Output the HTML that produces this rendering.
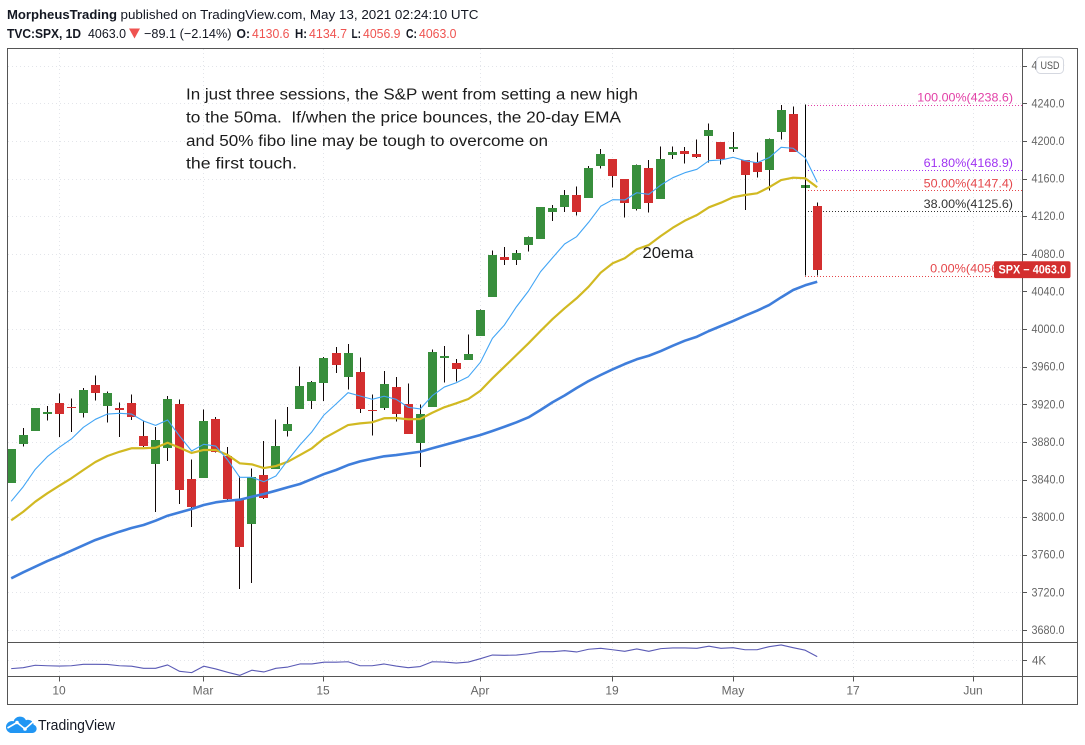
<!DOCTYPE html>
<html lang="en">
<head>
<meta charset="utf-8">
<title>TVC:SPX, 1D - MorpheusTrading</title>
<style>
  html, body { margin: 0; padding: 0; background: #ffffff; }
  body { width: 1085px; height: 745px; overflow: hidden; }
  svg { display: block; font-family: "Liberation Sans", sans-serif; }
  .crisp { shape-rendering: crispEdges; }
</style>
</head>
<body>
<svg id="chart" width="1085" height="745" viewBox="0 0 1085 745" xmlns="http://www.w3.org/2000/svg">
  <defs>
    <clipPath id="pane-clip"><rect x="8" y="49" width="1014" height="593"></rect></clipPath>
    <clipPath id="vol-clip"><rect x="8" y="643" width="1014" height="33"></rect></clipPath>
  </defs>

  <rect x="0" y="0" width="1085" height="745" fill="#ffffff"></rect>

  <g id="grid" class="crisp"></g>
  <g id="fib-lines" class="crisp" clip-path="url(#pane-clip)"></g>
  <g id="candles" class="crisp" clip-path="url(#pane-clip)"></g>
  <g id="lines" clip-path="url(#pane-clip)"></g>
  <g id="vol" clip-path="url(#vol-clip)"></g>

  <g class="crisp" fill="none" stroke="#555555" stroke-width="1">
    <rect x="7.5" y="48.5" width="1070" height="656"></rect>
    <line x1="1022.5" y1="48" x2="1022.5" y2="705"></line>
    <line x1="7" y1="642.5" x2="1078" y2="642.5"></line>
    <line x1="7" y1="676.5" x2="1078" y2="676.5"></line>
  </g>

  <g id="price-axis"></g>
  <g id="time-axis"></g>
  <g id="fib-labels"></g>

  <g>
    <rect x="1036.5" y="57" width="27" height="16.5" rx="4" fill="#ffffff" stroke="#d5d8e0"></rect>
    <text x="1050" y="69" font-size="11" fill="#555" text-anchor="middle" textLength="19" lengthAdjust="spacingAndGlyphs">USD</text>
  </g>

  <g id="last-price"></g>

  <g font-size="15.5" fill="#1c1c1c">
    <text x="186" y="99.5" textLength="452" lengthAdjust="spacingAndGlyphs">In just three sessions, the S&amp;P went from setting a new high</text>
    <text x="186" y="122.5" textLength="435" lengthAdjust="spacingAndGlyphs">to the 50ma.&#160; If/when the price bounces, the 20-day EMA</text>
    <text x="186" y="146" textLength="362" lengthAdjust="spacingAndGlyphs">and 50% fibo line may be tough to overcome on</text>
    <text x="186" y="168.5" textLength="111" lengthAdjust="spacingAndGlyphs">the first touch.</text>
  </g>
  <text x="642.5" y="258" font-size="16" fill="#1c1c1c" textLength="51" lengthAdjust="spacingAndGlyphs">20ema</text>

  <g font-size="13" fill="#131722">
    <text x="7" y="19" font-weight="bold" textLength="110" lengthAdjust="spacingAndGlyphs">MorpheusTrading</text>
    <text x="120.5" y="19" textLength="358" lengthAdjust="spacingAndGlyphs">published on TradingView.com, May 13, 2021 02:24:10 UTC</text>
    <text x="7" y="38" font-weight="bold" textLength="74" lengthAdjust="spacingAndGlyphs">TVC:SPX, 1D</text>
    <text x="88" y="38" textLength="38" lengthAdjust="spacingAndGlyphs">4063.0</text>
    <polygon points="129,28.5 140,28.5 134.5,38.5" fill="#ef5350"></polygon>
    <text x="144" y="38" textLength="87.5" lengthAdjust="spacingAndGlyphs">&#8722;89.1 (&#8722;2.14%)</text>
    <text x="236.5" y="38" font-weight="bold" textLength="13.5" lengthAdjust="spacingAndGlyphs">O:</text>
    <text x="252" y="38" fill="#ef5350" textLength="37.5" lengthAdjust="spacingAndGlyphs">4130.6</text>
    <text x="295" y="38" font-weight="bold" textLength="12" lengthAdjust="spacingAndGlyphs">H:</text>
    <text x="309" y="38" fill="#ef5350" textLength="38" lengthAdjust="spacingAndGlyphs">4134.7</text>
    <text x="351.5" y="38" font-weight="bold" textLength="9.5" lengthAdjust="spacingAndGlyphs">L:</text>
    <text x="363" y="38" fill="#ef5350" textLength="37.5" lengthAdjust="spacingAndGlyphs">4056.9</text>
    <text x="406" y="38" font-weight="bold" textLength="11" lengthAdjust="spacingAndGlyphs">C:</text>
    <text x="419" y="38" fill="#ef5350" textLength="37.5" lengthAdjust="spacingAndGlyphs">4063.0</text>
  </g>

  <g>
    <path d="M10.5 733 h21.5 a4.3 4.3 0 0 0 1.6 -8.4 a5.6 5.6 0 0 0 -7.6 -4.4 a6.8 6.8 0 0 0 -12.4 1 a6 6 0 0 0 -3.100 11.800 z" fill="#2196f3"></path>
    <polyline points="7.500,728 17,722.500 25,729 33.500,721.500" fill="none" stroke="#ffffff" stroke-width="1.600"></polyline>
    <circle cx="17" cy="722.500" r="1.800" fill="#ffffff"></circle>
    <circle cx="25" cy="729" r="1.800" fill="#ffffff"></circle>
    <text x="38" y="730" font-size="15" fill="#131722" textLength="77" lengthAdjust="spacingAndGlyphs">TradingView</text>
  </g>
</svg>

<script>
const categories = ["Feb 4","Feb 5","Feb 8","Feb 9","Feb 10","Feb 11","Feb 12","Feb 16","Feb 17","Feb 18","Feb 19","Feb 22","Feb 23","Feb 24","Feb 25","Feb 26","Mar 1","Mar 2","Mar 3","Mar 4","Mar 5","Mar 8","Mar 9","Mar 10","Mar 11","Mar 12","Mar 15","Mar 16","Mar 17","Mar 18","Mar 19","Mar 22","Mar 23","Mar 24","Mar 25","Mar 26","Mar 29","Mar 30","Mar 31","Apr 1","Apr 5","Apr 6","Apr 7","Apr 8","Apr 9","Apr 12","Apr 13","Apr 14","Apr 15","Apr 16","Apr 19","Apr 20","Apr 21","Apr 22","Apr 23","Apr 26","Apr 27","Apr 28","Apr 29","Apr 30","May 3","May 4","May 5","May 6","May 7","May 10","May 11","May 12"];
const opens = [3836.66,3878.30,3892.59,3910.49,3920.78,3916.40,3911.65,3939.61,3918.50,3915.86,3921.16,3885.55,3857.07,3873.71,3919.94,3839.66,3842.51,3903.64,3863.99,3818.53,3793.58,3844.39,3851.93,3891.99,3915.54,3924.52,3942.96,3973.59,3949.57,3953.50,3913.14,3916.48,3937.60,3919.93,3879.34,3917.12,3969.31,3963.34,3967.25,3992.78,4034.44,4075.57,4074.29,4089.95,4096.11,4124.71,4130.10,4141.58,4139.76,4174.14,4179.80,4159.18,4128.42,4170.46,4138.78,4185.03,4188.25,4185.14,4206.14,4198.10,4191.98,4179.04,4177.06,4169.14,4210.34,4228.29,4150.34,4130.55];
const highs = [3872.42,3894.56,3915.77,3918.35,3931.50,3925.99,3937.23,3950.43,3933.61,3921.98,3930.41,3902.92,3895.98,3928.65,3925.02,3861.08,3914.50,3906.41,3874.47,3843.67,3851.69,3881.06,3903.76,3917.35,3960.27,3944.99,3970.08,3981.04,3983.87,3969.62,3930.12,3955.31,3949.13,3942.08,3919.54,3978.19,3981.83,3968.01,3994.41,4020.63,4083.42,4087.00,4084.00,4098.19,4129.48,4131.76,4148.00,4151.69,4173.49,4191.31,4180.81,4159.18,4175.02,4179.57,4194.17,4194.19,4193.35,4201.53,4218.78,4198.10,4209.39,4179.04,4187.72,4202.70,4238.04,4236.39,4162.04,4134.73];
const lows = [3836.66,3874.93,3892.59,3902.64,3884.94,3890.39,3905.78,3923.85,3900.43,3885.03,3903.07,3874.71,3805.59,3859.60,3814.04,3789.54,3842.51,3868.57,3818.86,3723.34,3730.19,3819.25,3851.93,3885.73,3915.54,3915.21,3923.54,3953.44,3935.74,3910.86,3886.75,3914.16,3901.57,3889.07,3853.50,3917.12,3943.25,3944.35,3966.98,3992.78,4034.44,4068.31,4068.31,4082.54,4095.51,4114.82,4124.43,4120.87,4139.76,4170.75,4150.47,4118.38,4126.01,4123.69,4138.78,4180.80,4176.22,4181.78,4176.81,4174.85,4188.03,4126.81,4160.94,4147.33,4201.64,4188.13,4111.53,4056.88];
const closes = [3871.74,3886.83,3915.59,3911.23,3909.88,3916.38,3934.83,3932.59,3931.33,3913.97,3906.71,3876.50,3881.37,3925.43,3829.34,3811.15,3901.82,3870.29,3819.72,3768.47,3841.94,3821.35,3875.44,3898.81,3939.34,3943.34,3968.94,3962.71,3974.12,3915.46,3913.10,3940.59,3910.52,3889.14,3909.52,3974.54,3971.09,3958.55,3972.89,4019.87,4077.91,4073.94,4079.95,4097.17,4128.80,4127.99,4141.59,4124.66,4170.42,4185.47,4163.26,4134.94,4173.42,4134.98,4180.17,4187.62,4186.72,4183.18,4211.47,4181.17,4192.66,4164.66,4167.59,4201.62,4232.60,4188.43,4152.10,4063.04];
const fastEma = [3816.8,3832.3,3850.8,3864.2,3874.2,3883.1,3895.5,3904,3909.6,3910.4,3909.6,3902.2,3897.6,3903.3,3886.2,3870.3,3877.4,3875.6,3860.7,3842.3,3842.3,3837.6,3843.7,3860.7,3876.7,3890.8,3908.6,3920.3,3932.3,3928.8,3925.3,3928.5,3925.3,3916.8,3915,3929.1,3938.3,3942.9,3949.3,3964.6,3990.1,4004.3,4023.7,4040.4,4060.9,4075.8,4090.4,4098.2,4113.5,4130.5,4137.5,4137.2,4144.9,4143.2,4153.1,4160.9,4166.2,4169.8,4179,4179.7,4182.6,4179,4176.8,4182.2,4193.2,4192.2,4182.2,4156];
const ema20 = [3796.6,3805.7,3816.4,3825.3,3833.4,3841.3,3850.1,3858.6,3865,3869.5,3873.2,3873.2,3873.8,3879.1,3873.8,3868.2,3871.4,3871.4,3866,3857.2,3856.1,3852.2,3854.3,3858.9,3866,3873.2,3883.8,3890.8,3897.9,3899.7,3900.8,3905.1,3905.4,3904,3904.3,3911,3916.8,3921,3925.6,3934.4,3947.6,3959.9,3972.4,3984.8,3997.9,4010.6,4022,4032.7,4045,4059.9,4069.9,4075.2,4084.8,4089.3,4098.9,4107.7,4115.2,4121.2,4129.4,4134.3,4140.1,4142.5,4144.3,4150.7,4158.4,4160.9,4160.3,4150.7];
const ma50 = [3734.9,3741.3,3747.3,3753.3,3758.6,3764.3,3770,3775.7,3780.2,3784.5,3788.4,3791.6,3796.2,3801.5,3805.1,3808.6,3812.9,3815.7,3817.4,3818.5,3821.7,3824.6,3828.1,3831.7,3835.2,3840.5,3845.8,3850.1,3855.4,3859.3,3862.1,3864.7,3866,3867.8,3869.5,3873.2,3876.7,3880.2,3883.8,3887.3,3891.6,3896.1,3900.8,3906.1,3913.9,3922.1,3929.3,3937.3,3944.7,3951.1,3957.2,3962.8,3967.8,3971.6,3976.6,3982.3,3987.6,3991.8,3997.9,4003.2,4008.5,4014.2,4019.5,4025.5,4033.7,4041.5,4046.5,4050.3];
const volumeK = [3.48,3.54,3.69,3.66,3.64,3.66,3.75,3.75,3.74,3.66,3.63,3.5,3.5,3.71,3.31,3.23,3.63,3.46,3.25,3.06,3.38,3.27,3.5,3.58,3.77,3.77,3.88,3.88,3.91,3.66,3.66,3.77,3.64,3.54,3.61,3.91,3.89,3.83,3.89,4.1,4.33,4.31,4.33,4.41,4.54,4.54,4.6,4.52,4.69,4.75,4.66,4.56,4.71,4.56,4.73,4.77,4.77,4.75,4.88,4.75,4.79,4.66,4.66,4.85,4.96,4.79,4.63,4.23];
const priceTicks = [3680,3720,3760,3800,3840,3880,3920,3960,4000,4040,4080,4120,4160,4200,4240,4280];
const timeLabels = ["10","Mar","15","Apr","19","May","17","Jun"];
const timeBars = [4,16,26,39,50,60,70,80];
const fibPercents = ["100.00","61.80","50.00","38.00","0.00"];
const fibPrices = [4238.6,4168.9,4147.4,4125.6,4056.9];
const fibColors = ["#e23fa6","#a033f2","#e5474b","#333333","#e5474b"];
const fibBar = 66;
const symbolName = "SPX";

const SVG_NS = "http://www.w3.org/2000/svg";

function xScale(i) { return 11.2 + 12.03 * i; }
function yScale(p) { return 103.3 + (4240 - p) * 0.9405; }
function volScale(k) { return 660.3 - (k - 4) * 16; }

function make(parent, tag, attrs, txt) {
  const node = document.createElementNS(SVG_NS, tag);
  for (const key in attrs) { node.setAttribute(key, attrs[key]); }
  if (txt !== undefined) { node.textContent = txt; }
  document.getElementById(parent).appendChild(node);
  return node;
}

function linePoints(values, scale) {
  return values.map(function (v, i) {
    return xScale(i).toFixed(2) + "," + scale(v).toFixed(2);
  }).join(" ");
}

/* grid */
priceTicks.forEach(function (p) {
  const y = Math.round(yScale(p)) + 0.5;
  const el = make("grid", "line", { x1: 8, x2: 1022, y1: y, y2: y, stroke: "#e3e5ea", "stroke-width": 1, "stroke-dasharray": "1 3" });
  
  
});
timeBars.forEach(function (b) {
  const x = Math.floor(xScale(b)) + 0.5;
  const up = make("grid", "line", { x1: x, x2: x, y1: 49, y2: 642, stroke: "#e3e5ea", "stroke-width": 1, "stroke-dasharray": "1 3" });
  
  
  const low = make("grid", "line", { x1: x, x2: x, y1: 643, y2: 676, stroke: "#e3e5ea", "stroke-width": 1, "stroke-dasharray": "1 3" });
  
  
});
const volGrid = make("grid", "line", { x1: 8, x2: 1022, y1: 660.5, y2: 660.5, stroke: "#e3e5ea", "stroke-width": 1, "stroke-dasharray": "1 3" });



/* fibonacci */
fibPrices.forEach(function (p, i) {
  const y = yScale(p);
  const lineY = Math.round(y) + 0.5;
  const ln = make("fib-lines", "line", { x1: xScale(fibBar), x2: 1022, y1: lineY, y2: lineY, stroke: fibColors[i], "stroke-width": 1, "stroke-dasharray": "1 2" });
  
  
  const label = fibPercents[i] + "%(" + p.toFixed(1) + ")";
  const tx = make("fib-labels", "text", { x: 1013, y: (y - 3).toFixed(1), "font-size": 12, fill: fibColors[i], "text-anchor": "end", textLength: (label.length * 6.38).toFixed(1), lengthAdjust: "spacingAndGlyphs" }, label);
  
  
});

/* candles */
categories.forEach(function (day, i) {
  const px = Math.floor(xScale(i));
  const up = closes[i] >= opens[i];
  const wick = make("candles", "rect", { x: px, y: yScale(highs[i]).toFixed(2), width: 1, height: (yScale(lows[i]) - yScale(highs[i])).toFixed(2), fill: "#120808" });
  
  
  const top = Math.floor(yScale(Math.max(opens[i], closes[i])));
  const bot = Math.ceil(yScale(Math.min(opens[i], closes[i])));
  const body = make("candles", "rect", { x: px - 4, y: top, width: 9, height: Math.max(bot - top, 1), fill: up ? "#388e3c" : "#d32f2f" });
  
  
});
const fibStem = make("candles", "line", {
  x1: Math.floor(xScale(fibBar)) + 0.5, x2: Math.floor(xScale(fibBar)) + 0.5,
  y1: yScale(fibPrices[0]).toFixed(1), y2: yScale(fibPrices[4]).toFixed(1),
  stroke: "#000000", "stroke-width": 1
});



/* moving averages */
const lineMa50 = make("lines", "polyline", { points: linePoints(ma50, yScale), fill: "none", stroke: "#3f7edb", "stroke-width": 2.6, "stroke-linejoin": "round" });


const lineEma20 = make("lines", "polyline", { points: linePoints(ema20, yScale), fill: "none", stroke: "#d1b922", "stroke-width": 2.2, "stroke-linejoin": "round" });


const lineFast = make("lines", "polyline", { points: linePoints(fastEma, yScale), fill: "none", stroke: "#42a5f5", "stroke-width": 1.1, "stroke-linejoin": "round" });



/* volume */
const lineVol = make("vol", "polyline", { points: linePoints(volumeK, volScale), fill: "none", stroke: "#5a5ab5", "stroke-width": 1.1, "stroke-linejoin": "round" });



/* price axis */
priceTicks.forEach(function (p) {
  const y = yScale(p);
  const tick = make("price-axis", "line", { x1: 1023, x2: 1027, y1: Math.round(y) + 0.5, y2: Math.round(y) + 0.5, stroke: "#555555", "stroke-width": 1, "shape-rendering": "crispEdges" });
  
  
  const lab = make("price-axis", "text", { x: 1031.5, y: (y + 4).toFixed(1), "font-size": 11.5, fill: "#666666", textLength: 33, lengthAdjust: "spacingAndGlyphs" }, p.toFixed(1));
  
  
});
const volTick = make("price-axis", "line", { x1: 1023, x2: 1027, y1: 660.5, y2: 660.5, stroke: "#555555", "stroke-width": 1, "shape-rendering": "crispEdges" });


const volLab = make("price-axis", "text", { x: 1032, y: 664.5, "font-size": 11.5, fill: "#666666" }, "4K");



/* time axis */
timeBars.forEach(function (b, i) {
  const x = Math.floor(xScale(b)) + 0.5;
  const tick = make("time-axis", "line", { x1: x, x2: x, y1: 677, y2: 681.500, stroke: "#555555", "stroke-width": 1, "shape-rendering": "crispEdges" });
  
  
  const lab = make("time-axis", "text", { x: x - 0.5, y: 694.5, "font-size": 12, fill: "#666666", "text-anchor": "middle" }, timeLabels[i]);
  
  
});

/* last price tag */
const lastClose = closes[closes.length - 1];
const lastY = yScale(lastClose);
const tag = make("last-price", "rect", { x: 994, y: (lastY - 8.4).toFixed(1), width: 76.5, height: 16.8, rx: 2, fill: "#d32f2f" });


const tagText = make("last-price", "text", { x: 998.5, y: (lastY + 4).toFixed(1), "font-size": 11.5, fill: "#ffffff", "font-weight": "bold", textLength: 67.5, lengthAdjust: "spacingAndGlyphs" }, symbolName + " \u2212 " + lastClose.toFixed(1));


</script>
</body>
</html>
